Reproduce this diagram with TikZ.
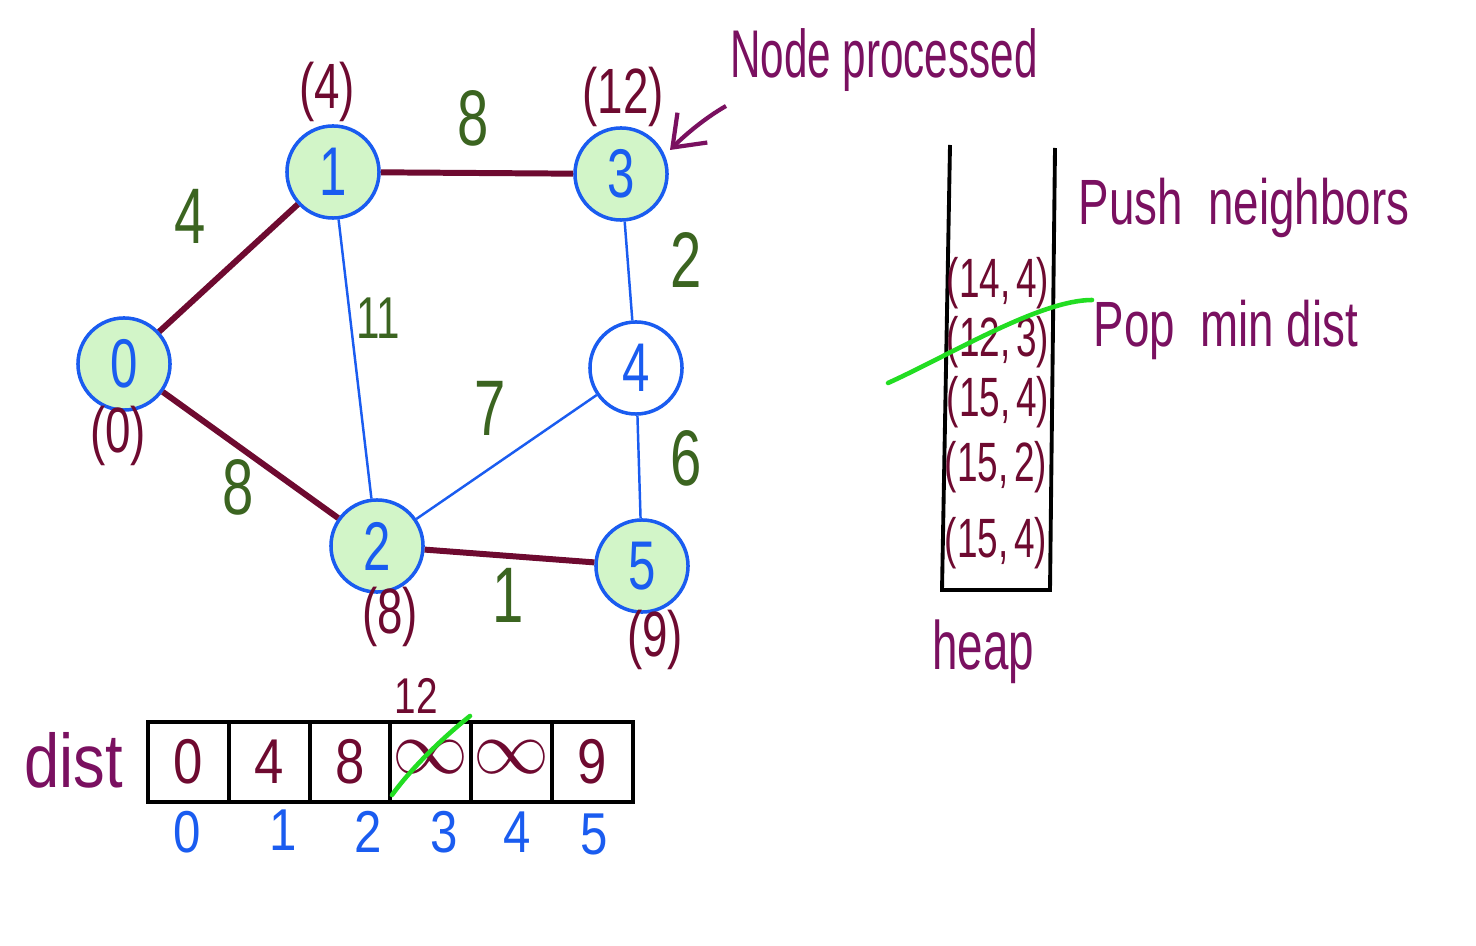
\documentclass[tikz,border=0pt]{standalone}
\usepackage{fontspec}
\usepackage{graphicx}
\setmainfont{Liberation Sans}
\usetikzlibrary{arrows.meta}
\definecolor{nodeblue}{HTML}{1A5CF0}
\definecolor{nodefill}{HTML}{D2F5C8}
\definecolor{maroon}{HTML}{6E0A30}
\definecolor{plum}{HTML}{7A1060}
\definecolor{wgreen}{HTML}{3B6420}
\definecolor{strike}{HTML}{22DD22}
\newcommand{\talltext}[2][1.4]{\scalebox{1}[#1]{#2}}
\tikzset{
  vtx/.style={circle, draw=nodeblue, line width=1pt, fill=nodefill, minimum size=0.92cm, inner sep=0pt, text=nodeblue, font=\fontsize{14}{16}\selectfont},
  vtxw/.style={vtx, fill=white},
  tree/.style={draw=maroon, line width=1.7pt},
  plain/.style={draw=nodeblue, line width=0.7pt},
  wlab/.style={text=wgreen, inner sep=1pt, font=\fontsize{16}{18}\selectfont},
  dlab/.style={text=maroon, inner sep=1pt, font=\fontsize{13}{16}\selectfont},
  note/.style={text=plum, inner sep=1pt, font=\fontsize{13}{16}\selectfont},
  hent/.style={text=maroon, inner sep=1pt, font=\fontsize{10.5}{12}\selectfont},
  cell/.style={draw=black, line width=1.1pt, minimum width=0.805cm, minimum height=0.8cm, inner sep=0pt, text=maroon, font=\fontsize{15}{18}\selectfont},
  idx/.style={text=nodeblue, inner sep=1pt, font=\fontsize{14}{16}\selectfont},
}
\begin{document}
\begin{tikzpicture}[x=0.01cm, y=-0.01cm]
\useasboundingbox[fill=white] (0,0) rectangle (1476,946);
% vertices
\node[vtx] (n0) at (124,364) {\talltext[1.4]{0}};
\node[vtx] (n1) at (333,172) {\talltext[1.4]{1}};
\node[vtx] (n3) at (621,174) {\talltext[1.4]{3}};
\node[vtxw] (n4) at (636,368) {\talltext[1.4]{4}};
\node[vtx] (n2) at (377,546) {\talltext[1.4]{2}};
\node[vtx] (n5) at (642,566) {\talltext[1.4]{5}};
% edges
\draw[tree] (n0) -- (n1);
\draw[tree] (n0) -- (n2);
\draw[tree] (n1) -- (n3);
\draw[tree] (n2) -- (n5);
\draw[plain] (n1) -- (n2);
\draw[plain] (n3) -- (n4);
\draw[plain] (n2) -- (n4);
\draw[plain] (n4) -- (n5);
% weights
\node[wlab] (w01) at (190,216) {\talltext{4}};
\node[wlab] (w13) at (473,118) {\talltext{8}};
\node[wlab, font=\fontsize{12}{14}\selectfont] (w12) at (378,318) {\talltext{11}};
\node[wlab] (w34) at (686,260) {\talltext{2}};
\node[wlab] (w24) at (490,408) {\talltext{7}};
\node[wlab] (w45) at (686,458) {\talltext{6}};
\node[wlab] (w02) at (238,487) {\talltext{8}};
\node[wlab] (w25) at (508,595) {\talltext{1}};
% distances
\node[dlab] (d1) at (327,92) {\talltext{(4)}};
\node[dlab] (d3) at (623,97) {\talltext{(12)}};
\node[dlab] (d0) at (118,436) {\talltext{(0)}};
\node[dlab] (d2) at (390,617) {\talltext{(8)}};
\node[dlab] (d5) at (655,640) {\talltext{(9)}};
% node processed
\node[note, font=\fontsize{12}{14}\selectfont] (np) at (884,60) {\talltext[1.6]{Node processed}};
\coordinate (arrS) at (726,106);
\coordinate (arrE) at (670,150);
\draw[draw=plum, line width=1.2pt, -{Straight Barb[length=8pt, width=12pt]}] (arrS) .. controls (705,118) and (685,135) .. (arrE);
% heap
\coordinate (hTL) at (950,145);
\coordinate (hBL) at (942,590);
\coordinate (hBR) at (1050,590);
\coordinate (hTR) at (1055,148);
\draw[line width=1.1pt] (hTL) -- (hBL) -- (hBR) -- (hTR);
\node[hent] (h1) at (998,283) {\talltext[1.5]{(14,\,4)}};
\node[hent] (h2) at (998,342) {\talltext[1.5]{(12,\,3)}};
\node[hent] (h3) at (998,402) {\talltext[1.5]{(15,\,4)}};
\node[hent] (h4) at (996,467) {\talltext[1.5]{(15,\,2)}};
\node[hent] (h5) at (996,543) {\talltext[1.5]{(15,\,4)}};
\coordinate (sA) at (888,383);
\coordinate (sB) at (1092,300);
\draw[strike, line width=1.3pt, line cap=round] (sA) .. controls (950,355) and (1040,300) .. (sB);
\node[note] (push) at (1244,208) {\talltext[1.4]{Push\ \ neighbors}};
\node[note] (pop) at (1226,330) {\talltext[1.4]{Pop\ \ min dist}};
\node[note] (heap) at (983,652) {\talltext[1.5]{heap}};
% dist array
\node[note, font=\fontsize{18}{20}\selectfont] (dist) at (74,760) {\talltext[1.2]{dist}};
\node[cell] (c0) at (188.5,762) {\talltext[1.2]{0}};
\node[cell] (c1) at (269.5,762) {\talltext[1.2]{4}};
\node[cell] (c2) at (350,762) {\talltext[1.2]{8}};
\node[cell] (c3) at (430.5,762) {\raisebox{3pt}{\scalebox{1.5}{$\infty$}}};
\node[cell] (c4) at (511.5,762) {\raisebox{3pt}{\scalebox{1.5}{$\infty$}}};
\node[cell] (c5) at (592.5,762) {\talltext[1.2]{9}};
\node[text=maroon, inner sep=0pt, font=\fontsize{11}{13}\selectfont] (twelve) at (416,696) {\talltext[1.3]{12}};
\coordinate (cA) at (470,716);
\coordinate (cB) at (392,795);
\draw[strike, line width=1.3pt, line cap=round] (cA) .. controls (440,740) and (410,770) .. (cB);
\node[idx] (i0) at (187,832) {\talltext[1.2]{0}};
\node[idx] (i1) at (283,830) {\talltext[1.2]{1}};
\node[idx] (i2) at (368,832) {\talltext[1.2]{2}};
\node[idx] (i3) at (444,832) {\talltext[1.2]{3}};
\node[idx] (i4) at (517,832) {\talltext[1.2]{4}};
\node[idx] (i5) at (594,834) {\talltext[1.2]{5}};
\end{tikzpicture}
\end{document}
